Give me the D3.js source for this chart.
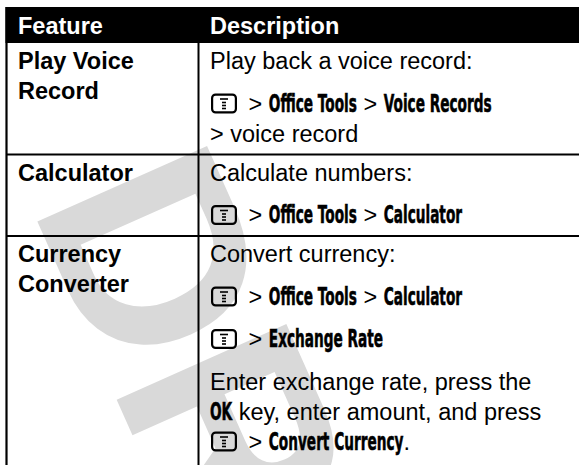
<!DOCTYPE html>
<html><head><meta charset="utf-8">
<script src="https://cdn.jsdelivr.net/npm/d3@7"></script>
<style>html,body{margin:0;padding:0;background:#fff;overflow:hidden}</style>
</head><body><svg id="c" width="579" height="465"></svg>
<script>
// ---- data ----
const headers = ["Feature", "Description"];
const features = [["Play Voice", "Record"], ["Calculator"], ["Currency", "Converter"]];
// segment kinds: t = plain text, m = menu item (display font), i = menu key icon
const descriptions = [
  [
    {gap: "p", segs: [["t", "Play back a voice record:"]]},
    {gap: "p", segs: [["i"], ["t", " > "], ["m", "Office Tools"], ["t", " > "], ["m", "Voice Records"]]},
    {gap: "w", segs: [["t", "> voice record"]]}
  ],
  [
    {gap: "p", segs: [["t", "Calculate numbers:"]]},
    {gap: "p", segs: [["i"], ["t", " > "], ["m", "Office Tools"], ["t", " > "], ["m", "Calculator"]]}
  ],
  [
    {gap: "p", segs: [["t", "Convert currency:"]]},
    {gap: "p", segs: [["i"], ["t", " > "], ["m", "Office Tools"], ["t", " > "], ["m", "Calculator"]]},
    {gap: "p", segs: [["i"], ["t", " > "], ["m", "Exchange Rate"]]},
    {gap: "p", segs: [["t", "Enter exchange rate, press the"]]},
    {gap: "w", segs: [["m", "OK"], ["t", " key, enter amount, and press"]]},
    {gap: "w", segs: [["i"], ["t", " > "], ["m", "Convert Currency"], ["t", "."]]}
  ]
];
const watermark = "DRAFT";

// ---- layout ----
const W = 579, H = 465;
const svg = d3.select("#c");
const x = d3.scaleOrdinal().domain(["left", "divider", "right"]).range([6.5, 198.5, 579]);
const textX = d3.scaleOrdinal().domain(headers).range([18, 210]);
const headerTop = 7, headerBot = 43;
const firstOff = 26, paraStep = 42.5, wrapStep = 30, bottomPad = 13;
const FS = 23.5, MFS = 24, MSX = 0.57;
const plainFont = "'Liberation Sans', Arial, Helvetica, sans-serif";
const menuFont = "'DejaVu Sans', sans-serif";

// compute row geometry
let rowTops = [], rowBases = [];
let yy = headerBot;
descriptions.forEach((lines, r) => {
  rowTops.push(yy);
  let b = yy + firstOff, bases = [];
  lines.forEach((ln, i) => {
    if (i > 0) b += (ln.gap === "p" ? paraStep : wrapStep);
    bases.push(b);
  });
  rowBases.push(bases);
  yy = b + bottomPad;
});
rowTops.push(yy);

// watermark
svg.append("text")
  .attr("transform", "translate(30,205) rotate(66)")
  .attr("font-family", plainFont).attr("font-weight", "bold")
  .attr("font-size", 270).attr("fill", "#d9d9d9")
  .text(watermark);

// header band
svg.append("rect").attr("x", x("left") - 1).attr("y", headerTop)
  .attr("width", W - x("left") + 1).attr("height", headerBot - headerTop).attr("fill", "#000");
svg.selectAll("text.hdr").data(headers).join("text").attr("class", "hdr")
  .attr("x", d => textX(d)).attr("y", 34)
  .attr("font-family", plainFont).attr("font-weight", "bold").attr("font-size", FS)
  .attr("fill", "#fff").text(d => d);

// grid lines
svg.append("line").attr("x1", x("left")).attr("x2", x("left"))
  .attr("y1", headerTop).attr("y2", H).attr("stroke", "#000").attr("stroke-width", 2.2);
svg.append("line").attr("x1", x("divider")).attr("x2", x("divider"))
  .attr("y1", headerBot).attr("y2", H).attr("stroke", "#000").attr("stroke-width", 2);
svg.selectAll("line.row").data(rowTops.slice(1, -1)).join("line").attr("class", "row")
  .attr("x1", x("left")).attr("x2", W).attr("y1", d => d).attr("y2", d => d)
  .attr("stroke", "#000").attr("stroke-width", 2);

// feature column
features.forEach((f, r) => {
  f.forEach((t, i) => {
    svg.append("text").attr("x", textX("Feature")).attr("y", rowBases[r][0] + i * wrapStep)
      .attr("font-family", plainFont).attr("font-weight", "bold").attr("font-size", FS)
      .attr("fill", "#000").text(t);
  });
});

// icon
function drawIcon(g, x0, base) {
  const w = 26, h = 20, top = base - 18;
  g.append("rect").attr("x", x0 + 1.1).attr("y", top + 1.1).attr("width", w - 2.2).attr("height", h - 2.2)
    .attr("rx", 3.5).attr("fill", "none").attr("stroke", "#000").attr("stroke-width", 2.2);
  const cx = x0 + w / 2;
  const bars = [[top + 5.5, 8], [top + 9, 4], [top + 12, 4], [top + 15, 4]];
  bars.forEach(([by, bw]) => g.append("rect").attr("x", cx - bw / 2).attr("y", by - 0.8)
    .attr("width", bw).attr("height", 1.6).attr("fill", "#000"));
  return w;
}

// description column
descriptions.forEach((lines, r) => {
  lines.forEach((ln, i) => {
    let cx = textX("Description");
    const base = rowBases[r][i];
    ln.segs.forEach(s => {
      if (s[0] === "i") {
        cx += drawIcon(svg, cx + 1, base) + 6;
      } else if (s[0] === "t") {
        const t = svg.append("text").attr("x", cx).attr("y", base)
          .attr("font-family", plainFont).attr("font-size", FS).attr("fill", "#000")
          .style("white-space", "pre").text(s[1]);
        cx += t.node().getComputedTextLength();
      } else {
        const t = svg.append("text").attr("transform", `translate(${cx},${base}) scale(${MSX},1)`)
          .attr("font-family", menuFont).attr("font-weight", "bold").attr("font-size", MFS)
          .attr("fill", "#000").attr("stroke", "#000").attr("stroke-width", 0.6)
          .style("white-space", "pre").text(s[1]);
        cx += t.node().getComputedTextLength() * MSX;
      }
    });
  });
});
</script></body></html>
